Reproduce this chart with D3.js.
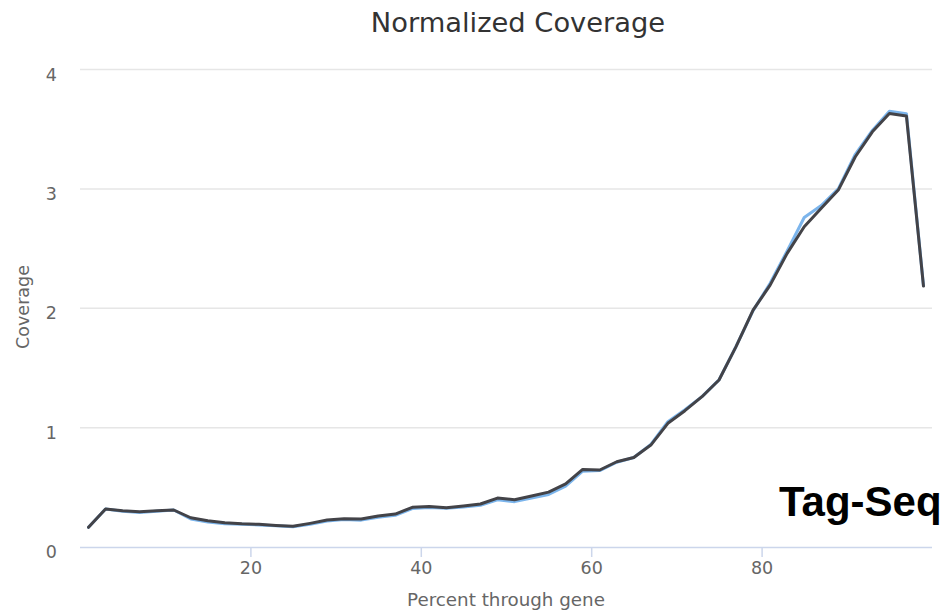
<!DOCTYPE html>
<html>
<head>
<meta charset="utf-8">
<script src="https://cdn.jsdelivr.net/npm/d3@7"></script>
<style>
  html, body { margin: 0; padding: 0; background: #ffffff; }
  svg { display: block; }
</style>
</head>
<body>
<svg id="chart" width="948" height="612"></svg>
<script>
// Percent position along the gene body (bin centres)
const percentBins = [
  1, 3, 5, 7, 9, 11, 13, 15, 17, 19,
  21, 23, 25, 27, 29, 31, 33, 35, 37, 39,
  41, 43, 45, 47, 49, 51, 53, 55, 57, 59,
  61, 63, 65, 67, 69, 71, 73, 75, 77, 79,
  81, 83, 85, 87, 89, 91, 93, 95, 97, 99
];

// Normalized coverage, sample A (drawn underneath in light blue)
const coverageA = [
  0.165, 0.318, 0.300, 0.290, 0.300, 0.310, 0.235, 0.210, 0.195, 0.190,
  0.185, 0.178, 0.170, 0.190, 0.218, 0.230, 0.225, 0.250, 0.265, 0.322,
  0.330, 0.325, 0.335, 0.350, 0.395, 0.380, 0.410, 0.440, 0.510, 0.635,
  0.640, 0.710, 0.750, 0.860, 1.050, 1.150, 1.260, 1.400, 1.680, 1.980,
  2.210, 2.480, 2.760, 2.860, 3.000, 3.290, 3.490, 3.650, 3.630, 2.190
];

// Normalized coverage, sample B (drawn on top in dark grey)
const coverageB = [
  0.165, 0.318, 0.304, 0.296, 0.304, 0.310, 0.245, 0.220, 0.204, 0.195,
  0.190, 0.180, 0.173, 0.198, 0.226, 0.237, 0.234, 0.260, 0.276, 0.332,
  0.340, 0.329, 0.343, 0.360, 0.410, 0.396, 0.427, 0.460, 0.528, 0.650,
  0.645, 0.714, 0.750, 0.854, 1.036, 1.142, 1.259, 1.399, 1.678, 1.985,
  2.194, 2.460, 2.683, 2.837, 2.990, 3.269, 3.478, 3.632, 3.610, 2.186
];

const xTicks = [20, 40, 60, 80];
const yTicks = [0, 1, 2, 3, 4];

const seriesColors = ["#7cb5ec", "#434348"];
const fontFamily = "'DejaVu Sans', 'Lucida Grande', Arial, sans-serif";

const svg = d3.select("#chart");
const plot = { left: 80, right: 932, top: 69.5, bottom: 547 };

const x = d3.scaleLinear().domain([0, 100]).range([plot.left, plot.right]);
const y = d3.scaleLinear().domain([0, 4]).range([plot.bottom, plot.top]);

// Title
svg.append("text")
  .attr("x", 518).attr("y", 32)
  .attr("text-anchor", "middle")
  .attr("font-family", fontFamily)
  .attr("font-size", 27.3)
  .attr("fill", "#333333")
  .text("Normalized Coverage");

// Horizontal grid lines
svg.append("g")
  .selectAll("line")
  .data(yTicks.filter(d => d !== 0))
  .join("line")
  .attr("x1", plot.left).attr("x2", plot.right)
  .attr("y1", d => y(d)).attr("y2", d => y(d))
  .attr("stroke", "#e6e6e6").attr("stroke-width", 1.5);

// Y axis tick labels
const yAxis = d3.axisLeft(y).tickValues(yTicks).tickSize(0).tickPadding(0).tickFormat(d3.format("d"));
const gy = svg.append("g").attr("transform", `translate(57,0)`).call(yAxis);
gy.select(".domain").remove();
gy.selectAll("text")
  .attr("font-family", fontFamily)
  .attr("font-size", 17.5)
  .attr("fill", "#666666")
  .attr("dy", "0.6em");

// X axis
const xAxis = d3.axisBottom(x).tickValues(xTicks).tickSize(10).tickPadding(5).tickFormat(d3.format("d"));
const gx = svg.append("g").attr("transform", `translate(0,${plot.bottom})`).call(xAxis);
gx.select(".domain")
  .attr("d", `M${plot.left},0.5H${plot.right}`)
  .attr("stroke", "#ccd6eb").attr("stroke-width", 1.5);
gx.selectAll(".tick line").attr("stroke", "#ccd6eb").attr("stroke-width", 1.5);
gx.selectAll("text")
  .attr("font-family", fontFamily)
  .attr("font-size", 17.5)
  .attr("fill", "#666666");

// Axis titles
svg.append("text")
  .attr("transform", "translate(29,307) rotate(-90)")
  .attr("text-anchor", "middle")
  .attr("font-family", fontFamily)
  .attr("font-size", 17.5)
  .attr("fill", "#666666")
  .text("Coverage");

svg.append("text")
  .attr("x", 506).attr("y", 606)
  .attr("text-anchor", "middle")
  .attr("font-family", fontFamily)
  .attr("font-size", 18.3)
  .attr("fill", "#666666")
  .text("Percent through gene");

// Coverage lines
const line = d3.line()
  .x((d, i) => x(percentBins[i]))
  .y(d => y(d));

[coverageA, coverageB].forEach((values, k) => {
  svg.append("path")
    .datum(values)
    .attr("d", line)
    .attr("fill", "none")
    .attr("stroke", seriesColors[k])
    .attr("stroke-width", 3)
    .attr("stroke-linejoin", "round")
    .attr("stroke-linecap", "round");
});

// Method label
svg.append("text")
  .attr("x", 779).attr("y", 516)
  .attr("font-family", "'Liberation Sans', Arial, Helvetica, sans-serif")
  .attr("font-weight", "bold")
  .attr("font-size", 42)
  .attr("fill", "#000000")
  .text("Tag-Seq");
</script>
</body>
</html>
